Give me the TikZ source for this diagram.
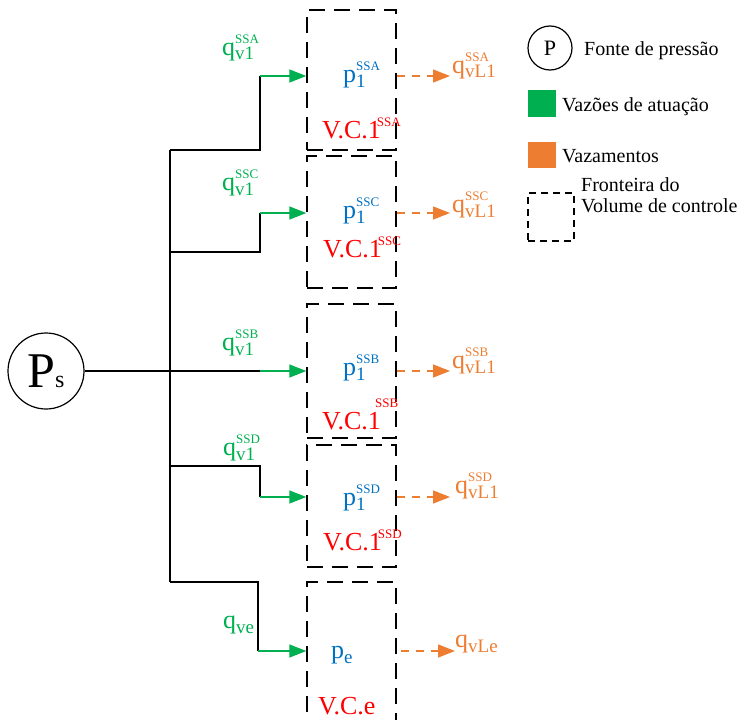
\documentclass[tikz,border=0pt]{standalone}
\usepackage{amsmath}
\usepackage{fontspec}
\setmainfont{LiberationSerif}[Extension=.ttf,UprightFont=*-Regular,BoldFont=*-Bold,ItalicFont=*-Italic,BoldItalicFont=*-BoldItalic]
\usetikzlibrary{arrows.meta}
\definecolor{flowgreen}{HTML}{00B050}
\definecolor{leakorange}{HTML}{ED7D31}
\definecolor{presblue}{HTML}{0070C0}
\definecolor{vcred}{HTML}{FF0000}
\newcommand{\qlbl}[3]{#1\rlap{\raisebox{-5pt}{\fontsize{19}{19}\selectfont #2}}\raisebox{12pt}{\fontsize{13}{13}\selectfont #3}}
\newcommand{\vcsup}[1]{\kern-4pt\raisebox{12pt}{\fontsize{13}{13}\selectfont #1}}

\begin{document}
\begin{tikzpicture}[x=1pt,y=-1pt,
  pipe/.style={line width=1.4pt},
  flow/.style={line width=1.4pt,flowgreen,-{Triangle[length=17pt,width=13pt]}},
  leak/.style={line width=1.4pt,leakorange,dash pattern=on 8pt off 7pt,-{Triangle[length=17pt,width=13pt]}},
  vcbox/.style={draw,line width=1.4pt,dash pattern=on 16pt off 9pt,minimum width=89pt,inner sep=0pt},
  lbl/.style={font=\fontsize{26}{30}\selectfont,inner sep=0pt,anchor=base west},
  leg/.style={font=\fontsize{20}{21}\selectfont,inner sep=0pt,anchor=base west,align=left},
]
\clip (0,0) rectangle (748,720);

\node[circle,draw,line width=1.2pt,minimum size=76pt,inner sep=0pt,font=\fontsize{50}{60}\selectfont] (Ps) at (46,371) {P{\fontsize{24}{24}\selectfont s}};

\coordinate (tTop) at (170,150);
\coordinate (jC) at (170,252);
\coordinate (jD) at (170,466);
\coordinate (tBot) at (170,582);
\coordinate (kA) at (260,76);
\coordinate (kC) at (260,213);
\coordinate (kB) at (260,371);
\coordinate (kD) at (260,497);
\coordinate (kE) at (258,651);

\draw[pipe] (tTop) -- (tBot);
\draw[pipe] (Ps.east) -- (kB);
\draw[pipe] (tTop) -| (kA);
\draw[pipe] (jC) -| (kC);
\draw[pipe] (jD) -| (kD);
\draw[pipe] (tBot) -| (kE);

\node[vcbox,minimum height=140pt] (boxA) at (351.5,80) {};
\node[vcbox,minimum height=132pt] (boxC) at (351.5,222) {};
\node[vcbox,minimum height=134pt] (boxB) at (351.5,371) {};
\node[vcbox,minimum height=122pt] (boxD) at (351.5,506) {};
\node[vcbox,minimum height=158pt] (boxE) at (351.5,661) {};

\draw[flow] (kA) -- (boxA.west |- kA);
\draw[flow] (kC) -- (boxC.west |- kC);
\draw[flow] (kB) -- (boxB.west |- kB);
\draw[flow] (kD) -- (boxD.west |- kD);
\draw[flow] (kE) -- (boxE.west |- kE);

\coordinate (tipA) at (450,76);
\coordinate (tipC) at (450,213);
\coordinate (tipB) at (450,371);
\coordinate (tipD) at (450,497);
\coordinate (tipE) at (455,651);
\draw[leak] (boxA.east |- kA) -- (tipA);
\draw[leak] (boxC.east |- kC) -- (tipC);
\draw[leak] (boxB.east |- kB) -- (tipB);
\draw[leak] (boxD.east |- kD) -- (tipD);
\draw[leak] ([xshift=4pt]boxE.east |- kE) -- (tipE);

\node[lbl,flowgreen] (qA) at (222,55) {\qlbl{q}{v1}{SSA}};
\node[lbl,flowgreen] (qC) at (222,190) {\qlbl{q}{v1}{SSC}};
\node[lbl,flowgreen] (qB) at (222,350) {\qlbl{q}{v1}{SSB}};
\node[lbl,flowgreen] (qD) at (223,455) {\qlbl{q}{v1}{SSD}};
\node[lbl,flowgreen] (qE) at (223,628) {q\raisebox{-5pt}{\fontsize{19}{19}\selectfont ve}};

\node[lbl,presblue] (pA) at (343,82) {\qlbl{p}{1}{SSA}};
\node[lbl,presblue] (pC) at (343,218) {\qlbl{p}{1}{SSC}};
\node[lbl,presblue] (pB) at (343,375) {\qlbl{p}{1}{SSB}};
\node[lbl,presblue] (pD) at (343,505) {\qlbl{p}{1}{SSD}};
\node[lbl,presblue] (pE) at (331,658) {p\raisebox{-5pt}{\fontsize{19}{19}\selectfont e}};

\node[lbl,vcred] (vcA) at (322,138) {V.C.1\vcsup{SSA}};
\node[lbl,vcred] (vcC) at (323,257) {V.C.1\vcsup{SSC}};
\node[lbl,vcred] (vcB) at (322,429) {V.C.1};
\node[vcred,font=\fontsize{13}{13}\selectfont,inner sep=0pt,anchor=base west] (vcBsup) at (375,407) {SSB};
\node[lbl,vcred] (vcD) at (323,550) {V.C.1\vcsup{SSD}};
\node[lbl,vcred] (vcE) at (318,714) {V.C.e};

\node[lbl,leakorange] (qLA) at (452,73) {\qlbl{q}{vL1}{SSA}};
\node[lbl,leakorange] (qLC) at (452,212) {\qlbl{q}{vL1}{SSC}};
\node[lbl,leakorange] (qLB) at (452,368) {\qlbl{q}{vL1}{SSB}};
\node[lbl,leakorange] (qLD) at (455,493) {\qlbl{q}{vL1}{SSD}};
\node[lbl,leakorange] (qLE) at (455,647) {q\raisebox{-5pt}{\fontsize{19}{19}\selectfont vLe}};

\node[circle,draw,line width=1.2pt,minimum size=44pt,inner sep=0pt,font=\fontsize{22}{22}\selectfont] (legP) at (550,48) {P};
\node[leg] (legPtxt) at (584,56) {Fonte de pressão};
\node[fill=flowgreen,minimum width=28pt,minimum height=27pt,inner sep=0pt] (legG) at (542,103) {};
\node[leg] (legGtxt) at (562,111) {Vazões de atuação};
\node[fill=leakorange,minimum width=28pt,minimum height=26pt,inner sep=0pt] (legO) at (542,155) {};
\node[leg] (legOtxt) at (562,162) {Vazamentos};
\node[draw,line width=1.2pt,dash pattern=on 7pt off 5pt,minimum width=46pt,minimum height=48pt,inner sep=0pt] (legB) at (551,217) {};
\node[leg] (legBtxt) at (581,212) {Fronteira do\\Volume de controle};
\end{tikzpicture}
\end{document}
